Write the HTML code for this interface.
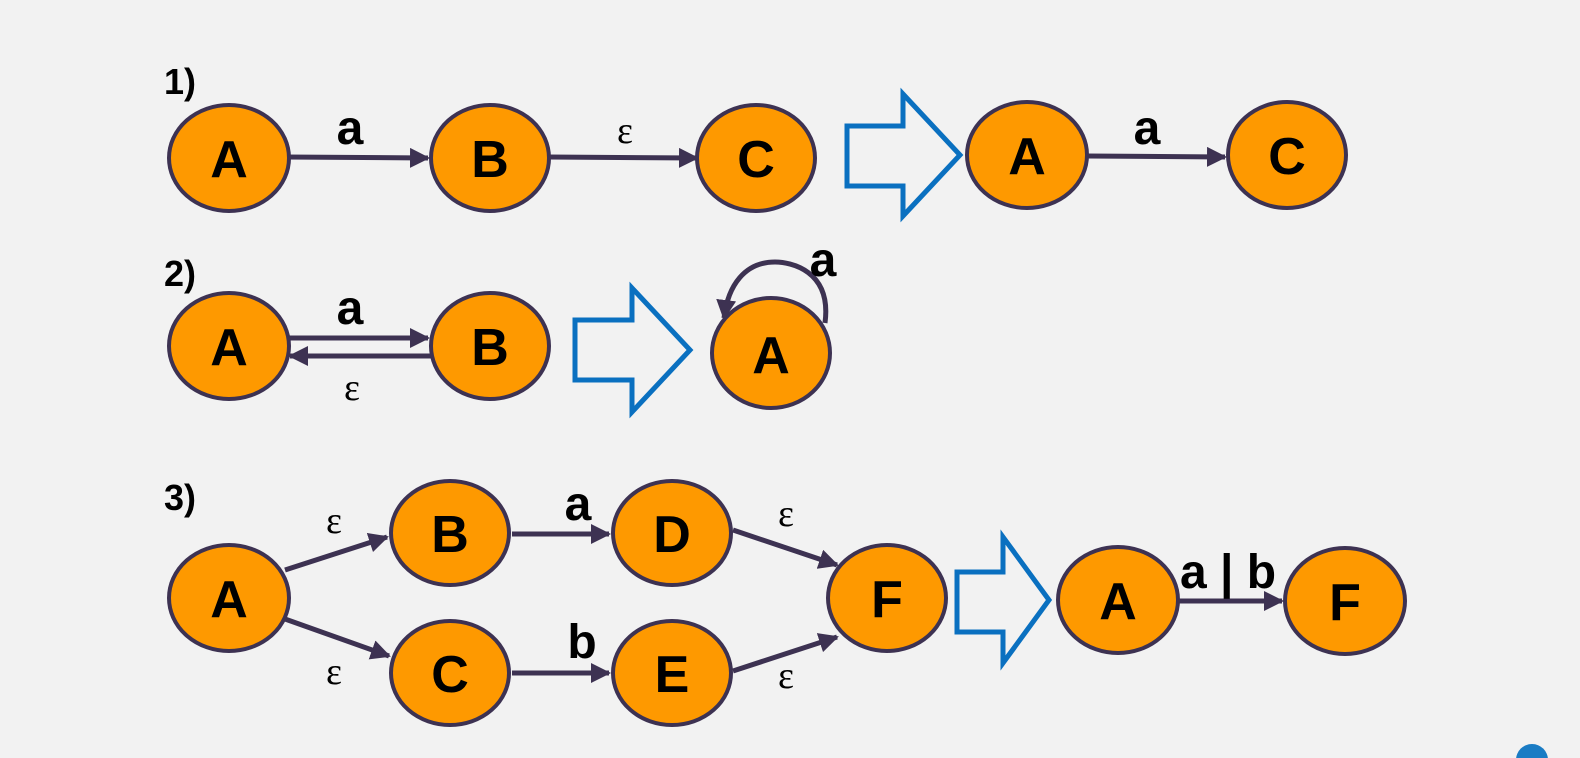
<!DOCTYPE html>
<html><head><style>
html,body{margin:0;padding:0;background:#f2f2f2;}
svg{display:block}
text{font-family:"Liberation Sans",sans-serif;font-weight:bold;fill:#000}
.n{fill:#fe9900;stroke:#3d3252;stroke-width:4}
.e{stroke:#3d3252;stroke-width:5;fill:none}
.h{fill:none;stroke:#0a70c0;stroke-width:5}
.eps{font-family:"Liberation Serif",serif;font-weight:normal;font-size:38px}
.nl{font-size:52px}
.lb{font-size:48px}
</style></head><body>
<svg width="1580" height="758" viewBox="0 0 1580 758">
<defs><marker id="ar" viewBox="0 0 10 10" refX="9" refY="5" markerWidth="4" markerHeight="4" orient="auto" markerUnits="strokeWidth"><path d="M0,0 L10,5 L0,10 z" fill="#3d3252"/></marker></defs>
<rect width="1580" height="758" fill="#f2f2f2"/>
<!-- row 1 -->
<text x="164" y="94" font-size="36">1)</text>
<line class="e" x1="285" y1="157" x2="428" y2="158" marker-end="url(#ar)"/>
<line class="e" x1="548" y1="157" x2="697" y2="158" marker-end="url(#ar)"/>
<line class="e" x1="1087" y1="156" x2="1225" y2="157" marker-end="url(#ar)"/>
<ellipse class="n" cx="229" cy="158" rx="60" ry="53"/>
<ellipse class="n" cx="490" cy="158" rx="59" ry="53"/>
<ellipse class="n" cx="756" cy="158" rx="59" ry="53"/>
<ellipse class="n" cx="1027" cy="155" rx="60" ry="53"/>
<ellipse class="n" cx="1287" cy="155" rx="59" ry="53"/>
<text class="nl" x="229" y="177" text-anchor="middle">A</text>
<text class="nl" x="490" y="177" text-anchor="middle">B</text>
<text class="nl" x="756" y="177" text-anchor="middle">C</text>
<text class="nl" x="1027" y="174" text-anchor="middle">A</text>
<text class="nl" x="1287" y="174" text-anchor="middle">C</text>
<text class="lb" x="350" y="144" text-anchor="middle">a</text>
<text class="eps" x="625" y="143" text-anchor="middle">ε</text>
<text class="lb" x="1147" y="144" text-anchor="middle">a</text>
<path class="h" d="M847,126 L903,126 L903,94 L960,155 L903,216 L903,186 L847,186 Z"/>
<!-- row 2 -->
<text x="164" y="286" font-size="36">2)</text>
<line class="e" x1="288" y1="338" x2="428" y2="338" marker-end="url(#ar)"/>
<line class="e" x1="432" y1="356" x2="290" y2="356" marker-end="url(#ar)"/>
<ellipse class="n" cx="229" cy="346" rx="60" ry="53"/>
<ellipse class="n" cx="490" cy="346" rx="59" ry="53"/>
<text class="nl" x="229" y="365" text-anchor="middle">A</text>
<text class="nl" x="490" y="365" text-anchor="middle">B</text>
<text class="lb" x="350" y="324" text-anchor="middle">a</text>
<text class="eps" x="352" y="400" text-anchor="middle">ε</text>
<path class="h" d="M575,320 L632,320 L632,288 L690,350 L632,412 L632,380 L575,380 Z"/>
<ellipse class="n" cx="771" cy="353" rx="59" ry="55"/>
<path class="e" d="M825,323 C832,270 790,262 775,262 C745,262 728,285 724,318" marker-end="url(#ar)"/>
<text class="nl" x="771" y="373" text-anchor="middle">A</text>
<text class="lb" x="823" y="276" text-anchor="middle">a</text>
<!-- row 3 -->
<text x="164" y="510" font-size="36">3)</text>
<line class="e" x1="285" y1="570" x2="387" y2="537" marker-end="url(#ar)"/>
<line class="e" x1="512" y1="534" x2="609" y2="534" marker-end="url(#ar)"/>
<line class="e" x1="733" y1="530" x2="837" y2="565" marker-end="url(#ar)"/>
<line class="e" x1="285" y1="619" x2="389" y2="656" marker-end="url(#ar)"/>
<line class="e" x1="512" y1="673" x2="609" y2="673" marker-end="url(#ar)"/>
<line class="e" x1="733" y1="671" x2="837" y2="637" marker-end="url(#ar)"/>
<line class="e" x1="1177" y1="601" x2="1282" y2="601" marker-end="url(#ar)"/>
<ellipse class="n" cx="229" cy="598" rx="60" ry="53"/>
<ellipse class="n" cx="450" cy="533" rx="59" ry="52"/>
<ellipse class="n" cx="672" cy="533" rx="59" ry="52"/>
<ellipse class="n" cx="450" cy="673" rx="59" ry="52"/>
<ellipse class="n" cx="672" cy="673" rx="59" ry="52"/>
<ellipse class="n" cx="887" cy="598" rx="59" ry="53"/>
<ellipse class="n" cx="1118" cy="600" rx="60" ry="53"/>
<ellipse class="n" cx="1345" cy="601" rx="60" ry="53"/>
<text class="nl" x="229" y="617" text-anchor="middle">A</text>
<text class="nl" x="450" y="552" text-anchor="middle">B</text>
<text class="nl" x="672" y="552" text-anchor="middle">D</text>
<text class="nl" x="450" y="692" text-anchor="middle">C</text>
<text class="nl" x="672" y="692" text-anchor="middle">E</text>
<text class="nl" x="887" y="617" text-anchor="middle">F</text>
<text class="nl" x="1118" y="619" text-anchor="middle">A</text>
<text class="nl" x="1345" y="620" text-anchor="middle">F</text>
<text class="eps" x="334" y="533" text-anchor="middle">ε</text>
<text class="lb" x="578" y="520" text-anchor="middle">a</text>
<text class="eps" x="786" y="526" text-anchor="middle">ε</text>
<text class="eps" x="334" y="684" text-anchor="middle">ε</text>
<text class="lb" x="582" y="658" text-anchor="middle">b</text>
<text class="eps" x="786" y="688" text-anchor="middle">ε</text>
<text class="lb" x="1228" y="588" text-anchor="middle">a | b</text>
<path class="h" d="M957,572 L1003,572 L1003,537 L1049,600 L1003,663 L1003,632 L957,632 Z"/>
<circle cx="1532" cy="760" r="16" fill="#1a7cc4"/>
</svg>
</body></html>
